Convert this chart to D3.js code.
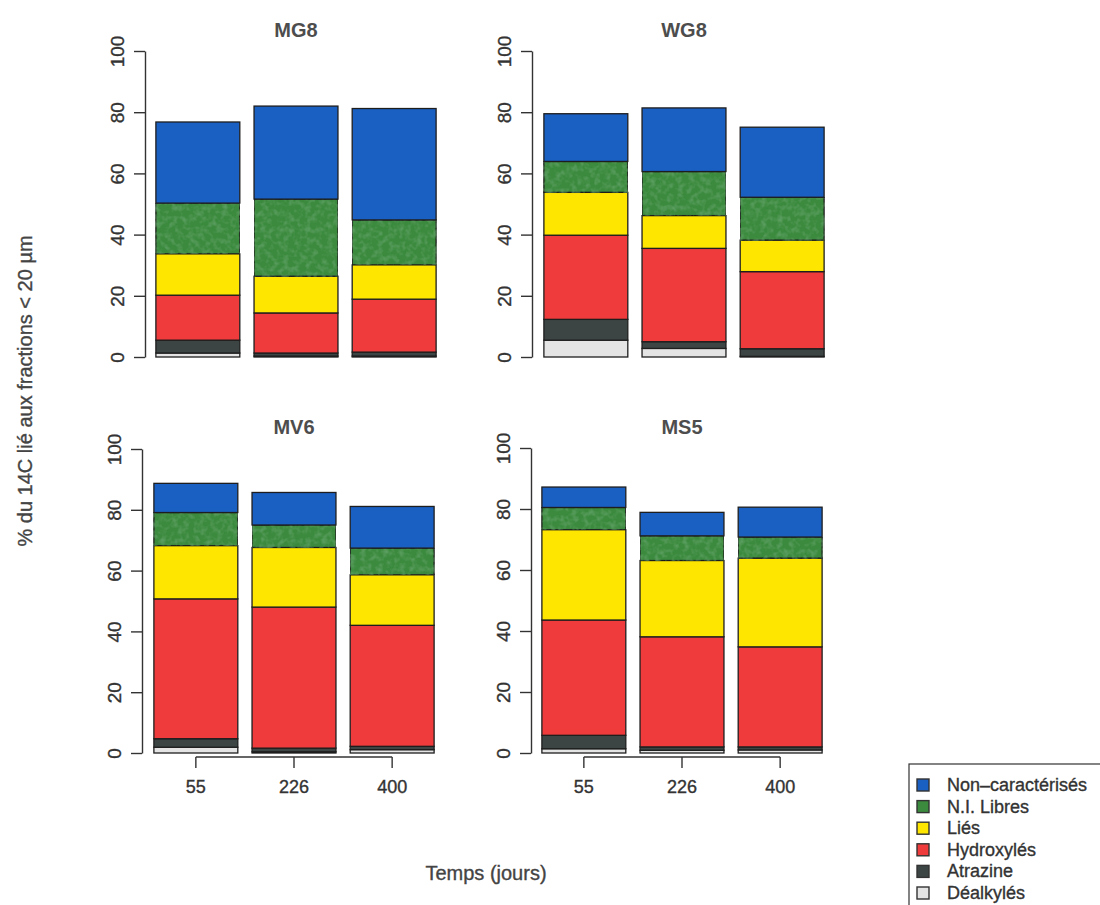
<!DOCTYPE html>
<html>
<head>
<meta charset="utf-8">
<script src="https://cdn.jsdelivr.net/npm/d3@7"></script>
<style>
  html, body { margin: 0; padding: 0; background: #fff; }
  svg { display: block; font-family: "Liberation Sans", Arial, Helvetica, sans-serif; }
</style>
</head>
<body>
<svg id="chart" width="1100" height="905"></svg>
<script>
// Sampling times (days) and soil sites
const days = ["55", "226", "400"];
const sites = ["MG8", "WG8", "MV6", "MS5"];
const yTicks = [0, 20, 40, 60, 80, 100];

// % of 14C in the < 20 µm fractions, one row per site (MG8, WG8, MV6, MS5), one value per day
const dealkyles      = [[1.3, 0.3, 0.3], [5.5, 2.8, 0.2], [1.9, 0.4, 1.1], [1.4, 0.9, 1.0]];
const atrazine       = [[4.2, 1.0, 1.3], [6.8, 2.2, 2.5], [2.8, 1.2, 1.1], [4.4, 1.1, 1.0]];
const hydroxyles     = [[14.7, 13.1, 17.3], [27.5, 30.5, 25.2], [46.0, 46.4, 39.8], [37.8, 36.1, 32.8]];
const lies           = [[13.5, 12.0, 11.2], [14.0, 10.7, 10.3], [17.5, 19.6, 16.6], [29.6, 25.0, 29.1]];
const niLibres       = [[16.6, 25.2, 14.7], [10.1, 14.4, 14.0], [10.9, 7.4, 8.8], [7.3, 8.1, 6.9]];
const nonCaracterises = [[26.5, 30.4, 36.4], [15.6, 20.8, 22.9], [9.6, 10.7, 13.7], [6.7, 7.7, 9.8]];

// Stack order, bottom to top
const seriesNames = ["Déalkylés", "Atrazine", "Hydroxylés", "Liés", "N.I. Libres", "Non–caractérisés"];
const seriesValues = [dealkyles, atrazine, hydroxyles, lies, niLibres, nonCaracterises];
const seriesColors = ["#e4e4e4", "#3c4444", "#ef3b3b", "#ffe600", "#3b8a3e", "#1a5fc2"];

const svg = d3.select("#chart");

// Mottled texture for the green band
const defs = svg.append("defs");
const f = defs.append("filter").attr("id", "mottle").attr("x", 0).attr("y", 0).attr("width", 1).attr("height", 1);
f.append("feTurbulence").attr("type", "fractalNoise").attr("baseFrequency", 0.18).attr("numOctaves", 2).attr("seed", 3).attr("result", "noise");
f.append("feColorMatrix").attr("in", "noise").attr("type", "matrix")
  .attr("values", "0 0 0 0 0.16  0 0 0 0 0.42  0 0 0 0 0.18  0 0 0 1.1 -0.45").attr("result", "spots");
f.append("feComposite").attr("in", "spots").attr("in2", "SourceGraphic").attr("operator", "in").attr("result", "spotsIn");
f.append("feMerge").call(m => { m.append("feMergeNode").attr("in", "SourceGraphic"); m.append("feMergeNode").attr("in", "spotsIn"); });

// Panel layout: plotting frame for each site
const panels = [
  { x0: 150, x1: 442, yZero: 357, yHundred: 51, axisX: 145, xAxis: false, titleY: 30 },
  { x0: 538, x1: 830, yZero: 357, yHundred: 51, axisX: 532, xAxis: false, titleY: 30 },
  { x0: 148, x1: 440, yZero: 753, yHundred: 449, axisX: 142, xAxis: true, titleY: 427 },
  { x0: 536, x1: 828, yZero: 753, yHundred: 448, axisX: 531, xAxis: true, titleY: 427 }
];

const textColor = "#333";
// slightly heavier glyphs, like the printed original
const thicken = sel => sel.attr("stroke", function () { return d3.select(this).attr("fill"); }).attr("stroke-width", 0.35);

sites.forEach((site, si) => {
  const p = panels[si];
  const x = d3.scaleBand().domain(days).range([p.x0, p.x1]).paddingInner(0.145).paddingOuter(0.06);
  const y = d3.scaleLinear().domain([0, 100]).range([p.yZero, p.yHundred]);

  const rows = days.map((d, di) => {
    const r = { day: d };
    seriesNames.forEach((n, k) => { r[n] = seriesValues[k][si][di]; });
    return r;
  });
  const stacked = d3.stack().keys(seriesNames)(rows);

  const g = svg.append("g");
  stacked.forEach((layer, k) => {
    g.append("g")
      .selectAll("rect")
      .data(layer)
      .join("rect")
      .attr("x", d => x(d.data.day))
      .attr("width", x.bandwidth())
      .attr("y", d => y(d[1]))
      .attr("height", d => y(d[0]) - y(d[1]))
      .attr("fill", seriesColors[k])
      .attr("filter", k === 4 ? "url(#mottle)" : null)
      .attr("stroke", "#1e1e1e")
      .attr("stroke-width", 1.3);
  });

  // y axis
  const yAxis = d3.axisLeft(y).tickValues(yTicks).tickSize(11).tickSizeOuter(0).tickPadding(4);
  const ya = svg.append("g").attr("transform", `translate(${p.axisX},0)`).call(yAxis);
  ya.select(".domain").attr("stroke", "#333").attr("stroke-width", 1.4);
  ya.selectAll(".tick line").attr("stroke", "#333").attr("stroke-width", 1.4);
  ya.selectAll(".tick text")
    .attr("fill", textColor)
    .attr("font-size", 19)
    .attr("text-anchor", "middle")
    .attr("x", 0).attr("dy", 0)
    .attr("dominant-baseline", "central")
    .attr("transform", "translate(-28,0) rotate(-90)")
    .call(thicken);

  // x axis (bottom row only)
  if (p.xAxis) {
    const xAxis = d3.axisBottom(x).tickSize(11).tickSizeOuter(0).tickPadding(12);
    const xa = svg.append("g").attr("transform", `translate(0,${p.yZero + 4})`).call(xAxis);
    const c = days.map(d => x(d) + x.bandwidth() / 2);
    xa.select(".domain").attr("d", `M${c[0]},0H${c[c.length - 1]}`).attr("stroke", "#333").attr("stroke-width", 1.4);
    xa.selectAll(".tick line").attr("stroke", "#333").attr("stroke-width", 1.4);
    xa.selectAll(".tick text").attr("fill", textColor).attr("font-size", 18).call(thicken);
  }

  // panel title
  svg.append("text")
    .attr("x", (x.range()[0] + x.range()[1]) / 2)
    .attr("y", p.titleY)
    .attr("text-anchor", "middle")
    .attr("dominant-baseline", "central")
    .attr("font-size", 20)
    .attr("font-weight", "bold")
    .attr("fill", "#4d4d4d")
    .text(site);
});

// axis titles
svg.append("text")
  .attr("transform", "translate(25,391) rotate(-90)")
  .attr("text-anchor", "middle")
  .attr("dominant-baseline", "central")
  .attr("font-size", 20)
  .attr("fill", "#444")
  .text("% du 14C lié aux fractions < 20 µm")
  .call(thicken);

svg.append("text")
  .attr("x", 486).attr("y", 873)
  .attr("text-anchor", "middle")
  .attr("dominant-baseline", "central")
  .attr("font-size", 20)
  .attr("fill", "#444")
  .text("Temps (jours)")
  .call(thicken);

// legend, top to bottom
const legend = svg.append("g");
legend.append("rect")
  .attr("x", 909).attr("y", 764).attr("width", 220).attr("height", 170)
  .attr("fill", "#fff").attr("stroke", "#333").attr("stroke-width", 1.2);
const legendOrder = d3.range(seriesNames.length).reverse();
const ly = d3.scalePoint().domain(legendOrder).range([785, 893]);
legendOrder.forEach(k => {
  legend.append("rect")
    .attr("x", 917).attr("y", ly(k) - 6).attr("width", 12).attr("height", 12)
    .attr("fill", seriesColors[k])
    .attr("stroke", "#333").attr("stroke-width", 1.4);
  legend.append("text")
    .attr("x", 947).attr("y", ly(k))
    .attr("dominant-baseline", "central")
    .attr("font-size", 18)
    .attr("fill", textColor)
    .text(seriesNames[k])
    .call(thicken);
});
</script>
</body>
</html>
